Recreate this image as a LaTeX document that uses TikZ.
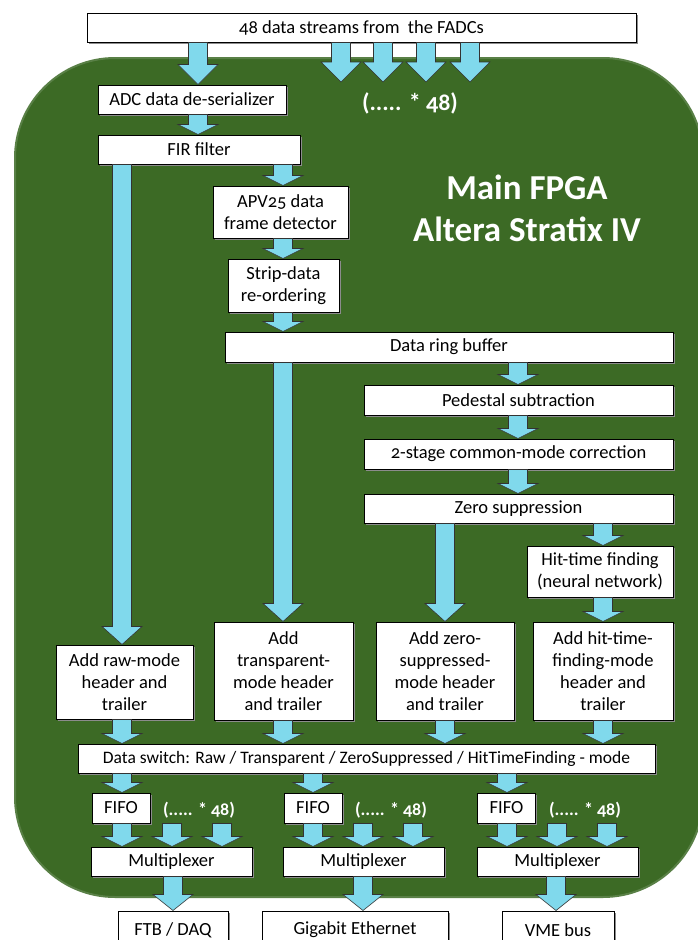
\documentclass[tikz,border=0pt]{standalone}
\usepackage{fontspec}
\setmainfont{Carlito}[Numbers=OldStyle]
\usepackage{tikz}
\usetikzlibrary{positioning,calc,shadows}
\usepackage{xcolor}
\definecolor{fpgagreen}{HTML}{3C6A25}
\definecolor{arrowblue}{HTML}{80D9EC}

\tikzset{
  blk/.style={draw=black,line width=1pt,fill=white,align=center,inner sep=0pt,
    font=\fontsize{18.5}{22}\selectfont,
    drop shadow={shadow xshift=1.5pt,shadow yshift=-1.5pt,fill=black!45,opacity=1}},
  arr/.style={fill=arrowblue,draw=black!80,line width=0.6pt},
  fat/.style={to path={let \p1=(\tikztostart),\p2=(\tikztotarget) in
    (\x1-9.5pt,\y1) -- (\x1-9.5pt,\y2+#1pt) -- (\x1-20pt,\y2+#1pt) -- (\x1,\y2)
    -- (\x1+20pt,\y2+#1pt) -- (\x1+9.5pt,\y2+#1pt) -- (\x1+9.5pt,\y1) -- cycle}},
  fat/.default=10,
  note/.style={text=white,align=center,font=\bfseries\fontsize{#1}{#1}\selectfont},
}

\begin{document}
\begin{tikzpicture}[x=1pt,y=-1pt]
\useasboundingbox (0,0) rectangle (697,940);
\fill[fpgagreen,draw=fpgagreen!85!white,line width=2pt,rounded corners=100pt] (15,58) rectangle (703,897);

% input and de-serializer
\node[blk,minimum width=549,minimum height=29] (fadc) at (361.5,27.5) {48 data streams from~ the FADCs};
\node[blk,minimum width=188,minimum height=29] (adc) at (192,99.5) {ADC data de-serializer};
\node[blk,minimum width=202,minimum height=29] (fir) at (199,149.5) {FIR filter};
\node[note=24] (mult) at (410,103) {(..... * 48)};
\node[note=35] (fpga) at (527,208) {Main FPGA\\[7pt]Altera Stratix IV};

% frame detection
\node[blk,minimum width=135,minimum height=52] (apv) at (280.5,212) {APV25 data\\frame detector};
\node[blk,minimum width=111,minimum height=53] (strip) at (283.5,285.5) {Strip-data\\re-ordering};
\node[blk,minimum width=448,minimum height=30] (ring) at (449,347) {Data ring buffer};
\node[blk,minimum width=309,minimum height=30] (ped) at (518.5,400) {Pedestal subtraction};
\node[blk,minimum width=309,minimum height=30] (cmc) at (518.5,454) {2-stage common-mode correction};
\node[blk,minimum width=309,minimum height=29] (zs) at (518.5,508.5) {Zero suppression};
\node[blk,minimum width=146,minimum height=51] (hit) at (600,571.5) {Hit-time finding\\(neural network)};

% headers
\node[blk,minimum width=137,minimum height=74] (raw) at (124.5,682) {Add raw-mode\\header and\\trailer};
\node[blk,minimum width=139,minimum height=98] (trans) at (283.5,671) {Add\\transparent-\\mode header\\and trailer};
\node[blk,minimum width=138,minimum height=98] (zero) at (445,671) {Add zero-\\suppressed-\\mode header\\and trailer};
\node[blk,minimum width=140,minimum height=98] (hitm) at (603,671) {Add hit-time-\\finding-mode\\header and\\trailer};
\node[blk,minimum width=577,minimum height=29,font=\fontsize{17.5}{22}\selectfont] (dsw) at (366.5,758.5) {Data switch: Raw / Transparent / ZeroSuppressed / HitTimeFinding - mode};

% output stage
\foreach \i/\fx/\mx/\ox/\lx in {1/121/171.5/173/199,2/313/363.5/355/391,3/506.5/557.5/558/585}{
  \node[blk,minimum width=58,minimum height=30] (fifo\i) at (\fx,808) {FIFO};
  \node[note=18] (more\i) at (\lx,810) {(..... * 48)};
  \node[blk,minimum width=161,minimum height=29] (mux\i) at (\mx,861.5) {Multiplexer};
}
\node[blk,minimum width=110,minimum height=38] (ftb) at (173,930) {FTB / DAQ};
\node[blk,minimum width=186,minimum height=38] (gbe) at (355,930) {Gigabit Ethernet};
\node[blk,minimum width=112,minimum height=38] (vme) at (558,930) {VME bus};

% arrow columns
\foreach \n/\x in {ca/198,cr/122,ct/283,cz/445,cp/518,ch/603,s1/341,s2/383,s3/426,s4/470,
    f2/313,f3/507,m1b/172,m1c/222,m2b/363,m2c/413,m3b/557,m3c/607,o1/173,o2/363,o3/556}
  \coordinate (\n) at (\x,0);
\coordinate (fadcend) at (0,82);

\draw[arr,fat=20] (ca |- fadc.south) to (adc.north);
\foreach \s in {s1,s2,s3,s4}
  \draw[arr,fat=20] (\s |- fadc.south) to (\s |- fadcend);
\draw[arr,fat] (ca |- adc.south) to (fir.north);
\draw[arr,fat=18] (cr |- fir.south) to (raw.north);
\draw[arr,fat] (ct |- fir.south) to (apv.north);
\draw[arr,fat] (ct |- apv.south) to (strip.north);
\draw[arr,fat] (ct |- strip.south) to (ring.north);
\draw[arr,fat=18] (ct |- ring.south) to (trans.north);
\draw[arr,fat] (cp |- ring.south) to (ped.north);
\draw[arr,fat] (cp |- ped.south) to (cmc.north);
\draw[arr,fat] (cp |- cmc.south) to (zs.north);
\draw[arr,fat=18] (cz |- zs.south) to (zero.north);
\draw[arr,fat] (ch |- zs.south) to (hit.north);
\draw[arr,fat] (ch |- hit.south) to (hitm.north);
\draw[arr,fat] (cr |- raw.south) to (dsw.north);
\draw[arr,fat] (ct |- trans.south) to (dsw.north);
\draw[arr,fat] (cz |- zero.south) to (dsw.north);
\draw[arr,fat] (ch |- hitm.south) to (dsw.north);
\draw[arr,fat] (cr |- dsw.south) to (fifo1.north);
\draw[arr,fat] (f2 |- dsw.south) to (fifo2.north);
\draw[arr,fat] (f3 |- dsw.south) to (fifo3.north);
\draw[arr,fat] (cr |- fifo1.south) to (mux1.north);
\draw[arr,fat] (m1b |- fifo1.south) to (mux1.north);
\draw[arr,fat] (m1c |- fifo1.south) to (mux1.north);
\draw[arr,fat] (f2 |- fifo2.south) to (mux2.north);
\draw[arr,fat] (m2b |- fifo2.south) to (mux2.north);
\draw[arr,fat] (m2c |- fifo2.south) to (mux2.north);
\draw[arr,fat] (f3 |- fifo3.south) to (mux3.north);
\draw[arr,fat] (m3b |- fifo3.south) to (mux3.north);
\draw[arr,fat] (m3c |- fifo3.south) to (mux3.north);
\draw[arr,fat=16] (o1 |- mux1.south) to (ftb.north);
\draw[arr,fat=16] (o2 |- mux2.south) to (gbe.north);
\draw[arr,fat=16] (o3 |- mux3.south) to (vme.north);
\end{tikzpicture}
\end{document}
